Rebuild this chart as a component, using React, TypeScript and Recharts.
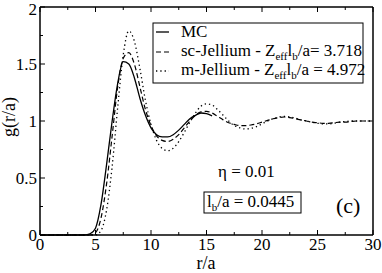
import React from "react";
import { LineChart, Line, XAxis, YAxis } from "recharts";

const rValues = [
  0, 0.5, 1, 1.5, 2, 2.5, 3, 3.5, 4, 4.5,
  5, 5.5, 6, 6.5, 7, 7.5, 8, 8.5, 9, 9.5,
  10, 10.5, 11, 11.5, 12, 12.5, 13, 13.5, 14, 14.5,
  15, 15.5, 16, 16.5, 17, 17.5, 18, 18.5, 19, 19.5,
  20, 20.5, 21, 21.5, 22, 22.5, 23, 23.5, 24, 24.5,
  25, 25.5, 26, 26.5, 27, 27.5, 28, 28.5, 29, 29.5, 30,
];

const mcValues: (number | null)[] = [
  0, 0, 0, 0, 0, 0, 0, 0, 0, 0.01,
  0.06, 0.27, 0.62, 1.0, 1.33, 1.52, 1.5, 1.38, 1.2, 1.05,
  0.94, 0.88, 0.86, 0.86, 0.88, 0.92, 0.97, 1.02, 1.05, 1.07,
  1.065, 1.045, null, null, null, null, null, null, null, null,
  null, null, null, null, null, null, null, null, null, null,
  null, null, null, null, null, null, null, null, null, null, null,
];

const scValues = [
  0, 0, 0, 0, 0, 0, 0, 0, 0, 0,
  0.02, 0.15, 0.45, 0.87, 1.3, 1.55, 1.6, 1.5, 1.3, 1.1,
  0.96, 0.87, 0.83, 0.82, 0.84, 0.88, 0.94, 1.0, 1.05, 1.08,
  1.085, 1.07, 1.04, 1.01, 0.985, 0.97, 0.96, 0.96, 0.965, 0.975,
  0.99, 1.005, 1.02, 1.03, 1.035, 1.03, 1.02, 1.01, 1.0, 0.99,
  0.985, 0.98, 0.98, 0.985, 0.99, 0.99, 0.995, 1.0, 1.0, 1.0, 1.0,
];

const mValues = [
  0, 0, 0, 0, 0, 0, 0, 0, 0, 0,
  0, 0.04, 0.22, 0.6, 1.12, 1.58, 1.79, 1.7, 1.46, 1.18,
  0.97, 0.83, 0.76, 0.74, 0.76, 0.82, 0.9, 0.99, 1.07, 1.13,
  1.15, 1.14, 1.1, 1.05, 1.0, 0.96, 0.94, 0.93, 0.935, 0.95,
  0.975, 1.0, 1.02, 1.035, 1.04, 1.035, 1.025, 1.01, 1.0, 0.99,
  0.98, 0.975, 0.975, 0.98, 0.99, 0.995, 1.0, 1.0, 1.0, 1.0, 1.0,
];

const xTicks = [0, 2.5, 5, 7.5, 10, 12.5, 15, 17.5, 20, 22.5, 25, 27.5, 30];
const xMajor = [0, 5, 10, 15, 20, 25, 30];
const yTicks = [0, 0.25, 0.5, 0.75, 1, 1.25, 1.5, 1.75, 2];
const yMajor = [0, 0.5, 1, 1.5, 2];

const data = rValues.map((r, i) => ({
  r,
  mc: mcValues[i],
  sc: scValues[i],
  m: mValues[i],
}));

const FONT = "Liberation Serif";
const MAJ = 5;
const MIN = 3;

const BottomTick = (props: any) => {
  const { x, y, payload } = props;
  const major = xMajor.includes(payload.value);
  return (
    <g>
      <line x1={x} x2={x} y1={y} y2={y - (major ? MAJ : MIN)} stroke="#000" strokeWidth={1} />
      {major && (
        <text x={x} y={y + 15} textAnchor="middle" fontFamily={FONT} fontSize={17} fill="#000">
          {String(payload.value)}
        </text>
      )}
    </g>
  );
};

const TopTick = (props: any) => {
  const { x, y, payload } = props;
  const major = xMajor.includes(payload.value);
  return <line x1={x} x2={x} y1={y} y2={y + (major ? MAJ : MIN)} stroke="#000" strokeWidth={1} />;
};

const LeftTick = (props: any) => {
  const { x, y, payload } = props;
  const major = yMajor.includes(payload.value);
  const baseline = Math.max(y + 6, 15);
  return (
    <g>
      <line x1={x} x2={x + (major ? MAJ : MIN)} y1={y} y2={y} stroke="#000" strokeWidth={1} />
      {major && (
        <text x={x - 3} y={baseline} textAnchor="end" fontFamily={FONT} fontSize={17} fill="#000">
          {String(payload.value)}
        </text>
      )}
    </g>
  );
};

const RightTick = (props: any) => {
  const { x, y, payload } = props;
  const major = yMajor.includes(payload.value);
  return <line x1={x} x2={x - (major ? MAJ : MIN)} y1={y} y2={y} stroke="#000" strokeWidth={1} />;
};

const Sub = ({ children }: { children: React.ReactNode }) => (
  <tspan fontSize={11} dy={4}>{children}</tspan>
);

export default function App() {
  return (
    <div style={{ position: "absolute", left: 0, top: 0, fontFamily: FONT }}>
      <LineChart
        width={382}
        height={273}
        data={data}
        margin={{ top: 0, right: 0, bottom: 0, left: 0 }}
        style={{ fontFamily: FONT }}
      >
        <XAxis
          xAxisId="bottom"
          dataKey="r"
          type="number"
          domain={[0, 30]}
          ticks={xTicks}
          interval={0}
          height={38}
          tickSize={0}
          tickMargin={0}
          tickLine={false}
          axisLine={{ stroke: "#000", strokeWidth: 1.5 }}
          tick={BottomTick}
        />
        <XAxis
          xAxisId="top"
          orientation="top"
          dataKey="r"
          type="number"
          domain={[0, 30]}
          ticks={xTicks}
          interval={0}
          height={7}
          tickSize={0}
          tickMargin={0}
          tickLine={false}
          axisLine={{ stroke: "#000", strokeWidth: 1.5 }}
          tick={TopTick}
        />
        <YAxis
          yAxisId="left"
          type="number"
          domain={[0, 2]}
          ticks={yTicks}
          interval={0}
          width={40}
          tickSize={0}
          tickMargin={0}
          tickLine={false}
          axisLine={{ stroke: "#000", strokeWidth: 1.5 }}
          tick={LeftTick}
        />
        <YAxis
          yAxisId="right"
          orientation="right"
          type="number"
          domain={[0, 2]}
          ticks={yTicks}
          interval={0}
          width={9}
          tickSize={0}
          tickMargin={0}
          tickLine={false}
          axisLine={{ stroke: "#000", strokeWidth: 1.5 }}
          tick={RightTick}
        />
        <Line
          xAxisId="bottom"
          yAxisId="left"
          dataKey="mc"
          type="monotone"
          stroke="#000"
          strokeWidth={1.3}
          dot={false}
          isAnimationActive={false}
          connectNulls={false}
        />
        <Line
          xAxisId="bottom"
          yAxisId="left"
          dataKey="sc"
          type="monotone"
          stroke="#000"
          strokeWidth={1.2}
          strokeDasharray="5 3"
          dot={false}
          isAnimationActive={false}
        />
        <Line
          xAxisId="bottom"
          yAxisId="left"
          dataKey="m"
          type="monotone"
          stroke="#000"
          strokeWidth={1.3}
          strokeDasharray="1.3 3"
          dot={false}
          isAnimationActive={false}
        />
        <g fill="#000">
          <text x={206} y={269} textAnchor="middle" fontSize={18} fontFamily={FONT}>r/a</text>
          <text x={15} y={117} textAnchor="middle" fontSize={18} fontFamily={FONT} transform="rotate(-90 15 117)">g(r/a)</text>

          <rect x={153} y={23} width={210} height={60} fill="#fff" stroke="#000" strokeWidth={1} />
          <line x1={156} x2={169} y1={32} y2={32} stroke="#000" strokeWidth={1.3} />
          <line x1={156} x2={169} y1={52} y2={52} stroke="#000" strokeWidth={1.2} strokeDasharray="5 3" />
          <line x1={156} x2={169} y1={71} y2={71} stroke="#000" strokeWidth={1.3} strokeDasharray="1.3 3" />
          <text x={181} y={37} fontSize={17} fontFamily={FONT}>MC</text>
          <text x={181} y={56} fontSize={17} fontFamily={FONT}>
            sc-Jellium - Z<Sub>eff</Sub><tspan dy={-4}>l</tspan><Sub>b</Sub><tspan dy={-4}>/a= 3.718</tspan>
          </text>
          <text x={181} y={75} fontSize={17} fontFamily={FONT}>
            m-Jellium - Z<Sub>eff</Sub><tspan dy={-4}>l</tspan><Sub>b</Sub><tspan dy={-4}>/a = 4.972</tspan>
          </text>

          <text x={218} y={177} fontSize={17} fontFamily={FONT}>η = 0.01</text>
          <rect x={204} y={192} width={97} height={21} fill="none" stroke="#000" strokeWidth={1} />
          <text x={207} y={207} fontSize={17} fontFamily={FONT}>
            l<Sub>b</Sub><tspan dy={-4}>/a = 0.0445</tspan>
          </text>
          <text x={336} y={213} fontSize={22} fontFamily={FONT}>(c)</text>
        </g>
      </LineChart>
    </div>
  );
}
